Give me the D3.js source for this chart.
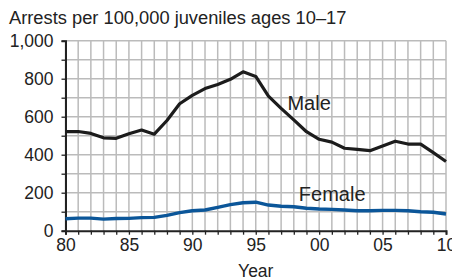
<!DOCTYPE html>
<html>
<head>
<meta charset="utf-8">
<script src="https://cdn.jsdelivr.net/npm/d3@7"></script>
<style>
  body { margin: 0; background: #fff; }
  svg { display: block; font-family: "Liberation Sans", Arial, sans-serif; }
</style>
</head>
<body>
<svg id="chart"></svg>
<script>
var width = 452;
var height = 279;

// Arrest rates per 100,000 juveniles, 1980-2010
var years = d3.range(1980, 2011);
var male = [521, 522, 512, 489, 486, 510, 530, 508, 580, 668, 712, 748, 770, 797, 836, 812,
            708, 644, 583, 521, 481, 466, 434, 428, 421, 446, 471, 456, 456, 411, 364];
var female = [63, 66, 66, 61, 64, 65, 69, 70, 81, 95, 105, 109, 123, 137, 147, 150,
              135, 129, 126, 118, 114, 112, 109, 105, 105, 107, 107, 105, 100, 97, 88];

var yTicks = [0, 200, 400, 600, 800, 1000];
var xTicks = [1980, 1985, 1990, 1995, 2000, 2005, 2010];

var margin = {top: 40.7, right: 6, bottom: 48.3, left: 65.5};

var svg = d3.select("#chart").attr("width", width).attr("height", height);

var x = d3.scaleLinear().domain([1980, 2010]).range([margin.left, width - margin.right]);
var y = d3.scaleLinear().domain([0, 1000]).range([height - margin.bottom, margin.top]);

// Grid: one line per year and per 100 arrests
var grid = svg.append("g").attr("stroke", "#bbbbbb").attr("stroke-width", 1.5);
grid.selectAll("line.v")
  .data(years)
  .enter().append("line")
  .attr("x1", d => x(d)).attr("x2", d => x(d))
  .attr("y1", y(0)).attr("y2", y(1000));
grid.selectAll("line.h")
  .data(d3.range(100, 1001, 100))
  .enter().append("line")
  .attr("x1", x(1980)).attr("x2", x(2010))
  .attr("y1", d => y(d)).attr("y2", d => y(d));

// Y axis
var yAxis = svg.append("g")
  .attr("transform", "translate(" + x(1980) + ",0)")
  .call(d3.axisLeft(y).tickValues(d3.range(0, 1001, 100)).tickSize(4)
    .tickFormat(d => yTicks.includes(d) ? d3.format(",")(d) : ""));

// X axis
var xAxis = svg.append("g")
  .attr("transform", "translate(0," + y(0) + ")")
  .call(d3.axisBottom(x).tickValues(years).tickSize(4)
    .tickFormat(d => xTicks.includes(d) ? d3.format("02")(d % 100) : ""));

[yAxis, xAxis].forEach(function (a) {
  a.select(".domain").attr("stroke", "#222").attr("stroke-width", 2);
  a.selectAll(".tick line").attr("stroke", "#222").attr("stroke-width", 1.3);
  a.selectAll(".tick text")
    .attr("fill", "#222")
    .style("font-size", "17.5px")
    .style("font-family", "Liberation Sans, Arial, sans-serif");
});
yAxis.selectAll(".tick text").attr("x", -12);
xAxis.selectAll(".tick text").attr("y", 8);

// Lines
var line = d3.line().x((d, i) => x(years[i])).y(d => y(d));

svg.append("path")
  .datum(female)
  .attr("fill", "none")
  .attr("stroke", "#0b5699")
  .attr("stroke-width", 3.4)
  .attr("stroke-linejoin", "round")
  .attr("d", line);

svg.append("path")
  .datum(male)
  .attr("fill", "none")
  .attr("stroke", "#1c1c1c")
  .attr("stroke-width", 3.2)
  .attr("stroke-linejoin", "round")
  .attr("d", line);

// Text
svg.append("text")
  .attr("x", 9).attr("y", 24)
  .attr("fill", "#222")
  .style("font-size", "18.3px")
  .text("Arrests per 100,000 juveniles ages 10\u201317");

svg.append("text")
  .attr("x", x(1997.5)).attr("y", y(635))
  .attr("fill", "#222")
  .style("font-size", "20px")
  .text("Male");

svg.append("text")
  .attr("x", x(1998.4)).attr("y", y(158))
  .attr("fill", "#222")
  .style("font-size", "20px")
  .text("Female");

svg.append("text")
  .attr("x", (x(1980) + x(2010)) / 2).attr("y", 277)
  .attr("text-anchor", "middle")
  .attr("fill", "#222")
  .style("font-size", "17.5px")
  .text("Year");
</script>
</body>
</html>
